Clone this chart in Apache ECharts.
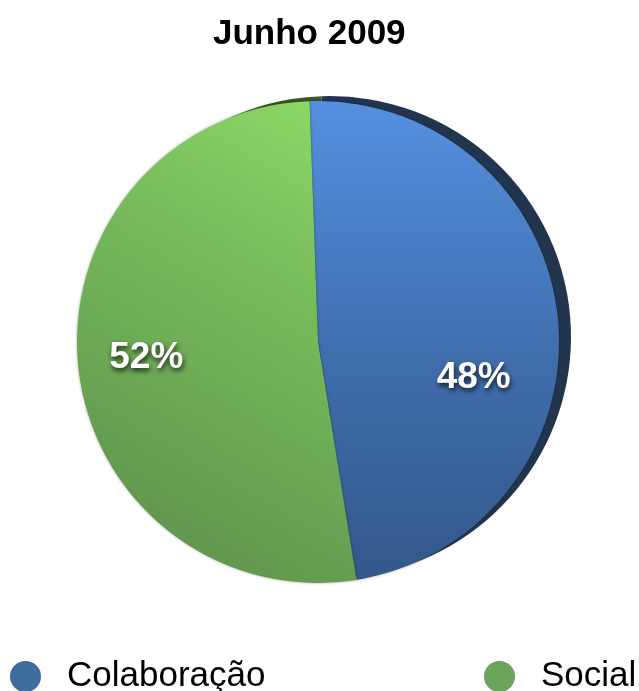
<!DOCTYPE html>
<html>
<head>
<meta charset="utf-8">
<title>Junho 2009</title>
<script src="https://cdn.jsdelivr.net/npm/echarts@6/dist/echarts.min.js"></script>
<style>
  html, body { margin: 0; padding: 0; background: #ffffff; }
  #chart { width: 639px; height: 691px; }
</style>
</head>
<body>
<div id="chart"></div>
<script>
// Share of activity per category, June 2009
const chartTitle = 'Junho 2009';
const categories = ['Colaboração', 'Social'];
const shares = [48, 52];

// Face gradients, side colours and legend swatches
const faceStops = [
  [[0, '#5590e0'], [0.5, '#4070b0'], [1, '#33578a']],
  [[0, '#8edb68'], [0.35, '#78bb5c'], [1, '#5a8c4a']]
];
// gradient directions: blue runs top -> bottom, green top-right -> bottom-left
const faceDirs = [[0, 0, 0, 1], [1, 0, 0, 1]];
const sideColors = ['#22354f', '#3b5829'];
const swatchColors = ['#3f6d9e', '#6aa35a'];

const CX = 318, CY = 342, R = 241;
const START = 92;
const FONT = '"Liberation Sans", Arial, Helvetica, sans-serif';

const chart = echarts.init(document.getElementById('chart'));

function grad(i) {
  const d = faceDirs[i];
  return new echarts.graphic.LinearGradient(d[0], d[1], d[2], d[3],
    faceStops[i].map(s => ({ offset: s[0], color: s[1] })));
}

const faceData = categories.map((name, i) => ({
  name, value: shares[i], itemStyle: { color: grad(i) }
}));
const sideData = categories.map((name, i) => ({
  name, value: shares[i], itemStyle: { color: sideColors[i] }
}));
const labelData = categories.map((name, i) => ({ name, value: shares[i] }));

const legendText = { fontFamily: FONT, fontSize: 35, color: '#000000', padding: [0, 0, 0, 21] };

chart.setOption({
  animation: false,
  backgroundColor: '#ffffff',
  title: {
    text: chartTitle,
    left: 208,
    top: 12,
    textStyle: { fontFamily: FONT, fontWeight: 'bold', fontSize: 35, color: '#000000' }
  },
  legend: [
    {
      data: [{ name: categories[0], itemStyle: { color: swatchColors[0] } }],
      left: 5, top: 654,
      icon: 'circle', itemWidth: 31, itemHeight: 31,
      selectedMode: false,
      textStyle: legendText
    },
    {
      data: [{ name: categories[1], itemStyle: { color: swatchColors[1] } }],
      left: 479, top: 654,
      icon: 'circle', itemWidth: 31, itemHeight: 31,
      selectedMode: false,
      textStyle: legendText
    }
  ],
  series: [
    {
      // depth of the disc, seen behind the face
      type: 'pie',
      silent: true,
      center: [CX + 12, CY - 5],
      radius: R,
      startAngle: START,
      clockwise: true,
      label: { show: false },
      labelLine: { show: false },
      data: sideData
    },
    {
      // top face of the disc
      type: 'pie',
      silent: true,
      center: [CX, CY],
      radius: R,
      startAngle: START,
      clockwise: true,
      itemStyle: { shadowBlur: 3, shadowColor: 'rgba(0,0,0,0.35)' },
      label: { show: false },
      labelLine: { show: false },
      data: faceData
    },
    {
      // percentage labels, placed two thirds out from the centre
      type: 'pie',
      silent: true,
      center: [CX, CY],
      radius: R * 1.34,
      startAngle: START,
      clockwise: true,
      itemStyle: { color: 'rgba(0,0,0,0)' },
      label: {
        show: true,
        position: 'inside',
        formatter: p => p.value + '%',
        fontFamily: FONT,
        fontWeight: 'bold',
        fontSize: 37,
        color: '#ffffff',
        textShadowColor: 'rgba(0,0,0,0.75)',
        textShadowBlur: 5,
        textShadowOffsetX: 1,
        textShadowOffsetY: 3
      },
      labelLine: { show: false },
      labelLayout: p => (p.dataIndex === 0 ? { dx: -8, dy: 52 } : { dx: -8, dy: 0 }),
      data: labelData
    }
  ]
});
</script>
</body>
</html>
